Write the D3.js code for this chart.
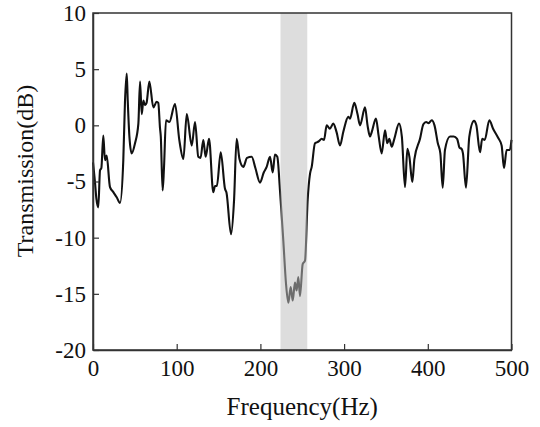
<!DOCTYPE html>
<html>
<head>
<meta charset="utf-8">
<script src="https://cdn.jsdelivr.net/npm/d3@7"></script>
<style>
  body { margin: 0; background: #fff; }
  svg { display: block; }
  text { font-family: "Liberation Serif", "Times New Roman", Times, serif; }
</style>
</head>
<body>
<div id="chart"></div>
<script>
// values
var freqHz = [0, 2.4, 4, 6.3, 8.4, 10, 12.3, 14.3, 16.3, 20.3, 24.3, 28.3, 32.3, 36.2, 38.2, 40.3,
    41.5, 43.5, 46.2, 50.2, 54.2, 56.2, 58.2, 60.2, 62.1, 64, 67.3, 72.1, 76.1, 78, 80, 81,
    83.2, 84.8, 87.2, 91.2, 98, 103.1, 108, 112, 118, 121.9, 125.8, 128.5, 131.8, 134.6, 138.6,
    143.7, 145.8, 148, 152.6, 157.7, 159.5, 164.9, 168.5, 171.6, 175, 179.6, 184, 189.6, 194,
    199.5, 204, 207.5, 211.5, 214.7, 217.4, 220.2, 223.4, 227.4, 230.6, 233.4, 236.2, 238.6,
    241.3, 243.3, 245.3, 247.3, 250.5, 253.3, 256.5, 259.3, 261.3, 265.2, 268, 270, 273.2, 276,
    279.2, 283, 287.1, 291, 295.1, 299, 305, 307, 312.2, 316, 319, 325, 328, 331, 333, 338.1,
    341, 344.9, 348.9, 351.6, 354, 356.9, 360, 365.6, 369, 372.8, 375.6, 378, 381.5, 384, 390.7,
    394.7, 398, 401, 404.7, 408, 412, 415, 417.8, 420.5, 426.5, 431, 435, 438, 440.5, 442, 445.6,
    449.6, 455.2, 458, 462.4, 465, 468, 473.5, 478, 484, 488.2, 491, 494.2, 498, 500];
var transDb = [-3.3, -5.1, -6.5, -7.3, -4.0, -3.8, -0.9, -3.1, -2.7, -5.5, -5.95, -6.4, -6.9, -3.1, 2.1, 4.6,
    2.2, -1.0, -2.5, -1.6, 0.15, 3.9, 1.0, 2.2, 1.8, 2.0, 3.9, 1.6, 2.1, 2.0, -0.2, -1.0,
    -5.8, -3.8, 0.45, 0.3, 1.9, -1.3, -3.0, 1.0, -1.8, 0.3, -2.8, -2.9, -1.3, -2.8, -1.2,
    -5.95, -5.4, -5.4, -2.4, -5.65, -6.0, -9.7, -6.7, -1.2, -3.0, -3.7, -2.9, -2.8, -3.8,
    -5.1, -4.2, -3.7, -2.8, -4.2, -2.6, -2.8, -5.8, -10.3, -14.1, -15.8, -14.4, -15.6,
    -14.0, -14.7, -13.5, -15.2, -12.35, -12.05, -6.6, -4.3, -3.7, -1.6, -1.5, -1.4, -1.2, -1.3,
    0.0, -0.3, 0.15, -0.6, -1.8, -0.6, 0.75, 0.6, 2.0, 1.0, 0.0, 1.6, 0.0, -1.0, -0.6, 0.6,
    -0.8, -2.5, -0.45, -1.6, -1.2, -1.9, -1.2, 0.15, -1.0, -5.5, -2.1, -2.8, -5.05, -3.0, -1.2,
    0.1, 0.3, 0.2, 0.45, 0.0, -1.6, -2.5, -5.55, -2.2, -1.0, -1.0, -1.2, -2.0, -2.1, -2.5, -5.55,
    -1.0, 0.4, 0.0, -2.4, -1.2, -1.3, 0.45, -0.3, -1.1, -1.8, -3.8, -2.2, -2.2, -1.3];
var bandHz = [224, 256];
var xTicks = [0, 100, 200, 300, 400, 500];
var yTicks = [-20, -15, -10, -5, 0, 5, 10];

var vMargin = { mTop: 13, mRight: 28.5, mBottom: 77, mLeft: 93 },
    vWidth = 540 - vMargin.mLeft - vMargin.mRight,
    vHeight = 427 - vMargin.mTop - vMargin.mBottom;

var svg = d3.select("#chart")
    .append("svg")
    .attr("width", 540)
    .attr("height", 427)
    .append("g")
    .attr("transform", "translate(" + vMargin.mLeft + "," + vMargin.mTop + ")");

var x = d3.scaleLinear().domain([0, 500]).range([0, vWidth]);
var y = d3.scaleLinear().domain([-20, 10]).range([vHeight, 0]);

var vData = freqHz.map(function (f, i) { return { f: f, v: transDb[i] }; });

// curve
svg.append("path")
    .datum(vData)
    .attr("fill", "none")
    .attr("stroke", "#111")
    .attr("stroke-width", 2.1)
    .attr("stroke-linejoin", "round")
    .attr("d", d3.line()
        .x(function (d) { return x(d.f); })
        .y(function (d) { return y(d.v); })
        .curve(d3.curveMonotoneX));

// shaded band, drawn over the curve so the line shows grey through it
svg.append("rect")
    .attr("x", x(bandHz[0]))
    .attr("y", 0)
    .attr("width", x(bandHz[1]) - x(bandHz[0]))
    .attr("height", vHeight)
    .attr("fill", "#bebebe")
    .attr("fill-opacity", 0.53);

// frame
svg.append("rect")
    .attr("width", vWidth)
    .attr("height", vHeight)
    .attr("fill", "none")
    .attr("stroke", "#333")
    .attr("stroke-width", 1.5);

var plainFmt = function (d) { return String(d); };  // hyphen minus like the original

var gx = svg.append("g")
    .attr("transform", "translate(0," + vHeight + ")")
    .call(d3.axisBottom(x).tickValues(xTicks).tickFormat(plainFmt)
        .tickSizeInner(-6).tickSizeOuter(0).tickPadding(10));
var gy = svg.append("g")
    .call(d3.axisLeft(y).tickValues(yTicks).tickFormat(plainFmt)
        .tickSizeInner(-6).tickSizeOuter(0).tickPadding(7));

[gx, gy].forEach(function (g) {
    g.attr("font-family", null).attr("font-size", null);
    g.select(".domain").attr("stroke", "#333").attr("stroke-width", 1.5);
    g.selectAll(".tick line").attr("stroke", "#333").attr("stroke-width", 1.2);
    g.selectAll("text")
        .attr("fill", "#111")
        .style("font-size", "23px");
});

svg.append("text")
    .attr("x", vWidth / 2)
    .attr("y", vHeight + 65)
    .attr("text-anchor", "middle")
    .attr("fill", "#111")
    .style("font-size", "25px")
    .text("Frequency(Hz)");

svg.append("text")
    .attr("transform", "translate(" + (33 - vMargin.mLeft) + "," + (171 - vMargin.mTop) + ") rotate(-90)")
    .attr("text-anchor", "middle")
    .attr("fill", "#111")
    .style("font-size", "24px")
    .text("Transmission(dB)");
</script>
</body>
</html>
